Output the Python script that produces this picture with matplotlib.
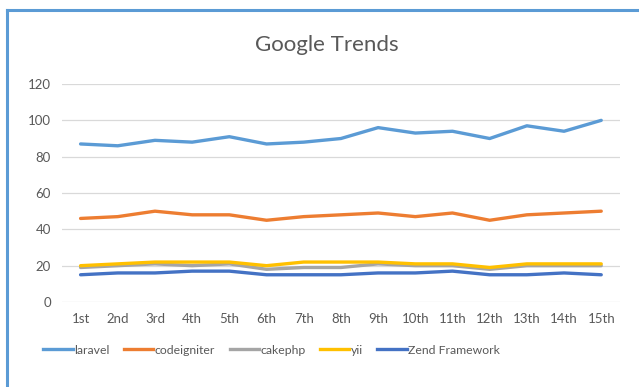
import matplotlib.pyplot as plt
from matplotlib.lines import Line2D

periods = ['1st', '2nd', '3rd', '4th', '5th', '6th', '7th', '8th',
           '9th', '10th', '11th', '12th', '13th', '14th', '15th']
laravel = [87, 86, 89, 88, 91, 87, 88, 90, 96, 93, 94, 90, 97, 94, 100]
codeigniter = [46, 47, 50, 48, 48, 45, 47, 48, 49, 47, 49, 45, 48, 49, 50]
cakephp = [19, 20, 21, 20, 21, 18, 19, 19, 21, 20, 20, 18, 20, 20, 20]
yii = [20, 21, 22, 22, 22, 20, 22, 22, 22, 21, 21, 19, 21, 21, 21]
zend = [15, 16, 16, 17, 17, 15, 15, 15, 16, 16, 17, 15, 15, 16, 15]

series = [
    ('laravel', laravel, '#5B9BD5'),
    ('codeigniter', codeigniter, '#ED7D31'),
    ('cakephp', cakephp, '#A5A5A5'),
    ('yii', yii, '#FFC000'),
    ('Zend Framework', zend, '#4472C4'),
]

plt.rcParams['font.family'] = ['Lato', 'DejaVu Sans']
text_color = '#595959'

fig = plt.figure(figsize=(6.39, 3.87), dpi=100)
ax = fig.add_axes([0.097, 0.2196, 0.873, 0.5633])

x = list(range(1, len(periods) + 1))
for name, vals, color in series:
    ax.plot(x, vals, color=color, linewidth=2.4, label=name, solid_capstyle='round')

ax.set_xlim(0.5, 15.5)
ax.set_ylim(0, 120)
ax.set_yticks(range(0, 121, 20))
ax.set_xticks(x)
ax.set_xticklabels(periods)
ax.tick_params(axis='both', length=0, labelsize=9.5, colors=text_color, pad=8)
ax.grid(axis='y', color='#D9D9D9', linewidth=0.9)
ax.set_axisbelow(True)
for s in ax.spines.values():
    s.set_visible(False)

fig.text(0.512, 0.885, 'Google Trends', ha='center', va='center',
         fontsize=16, color=text_color)

handles = [Line2D([0], [0], color=c, linewidth=2.4) for _, _, c in series]
fig.legend(handles, [n for n, _, _ in series], loc='center',
           bbox_to_anchor=(0.425, 0.095), ncol=5, frameon=False,
           fontsize=8.8, labelcolor=text_color, handlelength=2.4,
           handletextpad=0.1, columnspacing=1.2)

# blue frame on top and left
fig.add_artist(Line2D([0.011, 1.0], [0.975, 0.975], color='#5B9BD5', linewidth=2.2))
fig.add_artist(Line2D([0.011, 0.011], [0.0, 0.975], color='#5B9BD5', linewidth=2.2))

fig.savefig('out.png', dpi=100)
plt.close(fig)
